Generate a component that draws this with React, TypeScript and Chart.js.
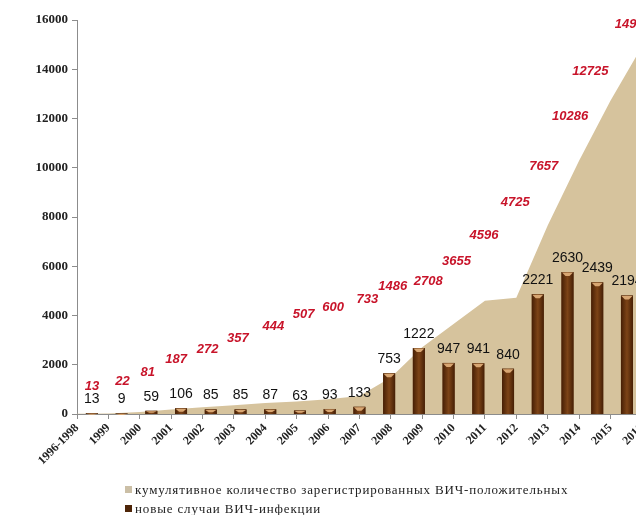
import React, { useEffect, useRef } from "react";
import { Chart, registerables } from "chart.js";

Chart.register(...registerables);

// ---- data ----
const categories = [
  "1996-1998", "1999", "2000", "2001", "2002", "2003", "2004", "2005", "2006",
  "2007", "2008", "2009", "2010", "2011", "2012", "2013", "2014", "2015", "2016",
];
const cumulativeCases = [
  13, 22, 81, 187, 272, 357, 444, 507, 600, 733, 1486, 2708, 3655, 4596, 4725,
  7657, 10286, 12725, 14915,
];
const newCases = [
  13, 9, 59, 106, 85, 85, 87, 63, 93, 133, 753, 1222, 947, 941, 840, 2221, 2630,
  2439, 2194,
];
const yAxisMax = 16000;
const yAxisStep = 2000;
const barAxisMax = 7300;
const legendLabels = [
  "кумулятивное количество зарегистрированных ВИЧ-положительных",
  "новые случаи ВИЧ-инфекции",
];

// ---- label placement nudges (px, relative to the area point) ----
const cumLabelNudge: [number, number][] = [
  [15, -27], [14, -32], [8, -40], [5, -50], [5, -58], [4, -67], [8, -77],
  [7, -87], [5, -92], [8, -97], [2, -91], [6, -66], [3, -63], [-1, -65],
  [-1, -95], [-4, -59], [-9, -44], [-20, -29], [-9, -22],
];

const AREA_COLOR = "#d6c39d";
const BAR_COLOR = "#5e2f0b";
const RED = "#c8142a";

const labelPlugin = {
  id: "valueLabels",
  afterDatasetsDraw(chart: any) {
    const ctx = chart.ctx as CanvasRenderingContext2D;
    const areaMeta = chart.getDatasetMeta(0);
    const barMeta = chart.getDatasetMeta(1);
    ctx.save();
    // bar shading + caps
    barMeta.data.forEach((bar: any) => {
      const { x, y, base, width } = bar.getProps(["x", "y", "base", "width"], true);
      const l = x - width / 2;
      const r = x + width / 2;
      const g = ctx.createLinearGradient(l, 0, r, 0);
      g.addColorStop(0, "#461f05");
      g.addColorStop(0.5, "#7d4417");
      g.addColorStop(1, "#461f05");
      ctx.fillStyle = g;
      ctx.fillRect(l, y, width, base - y);
      const capH = Math.min(4, Math.max(1.5, (base - y) * 0.6));
      ctx.fillStyle = "#d8a672";
      ctx.beginPath();
      ctx.moveTo(l + 0.5, y + 0.5);
      ctx.lineTo(r - 0.5, y + 0.5);
      ctx.lineTo(x + 2, y + capH);
      ctx.lineTo(x - 2, y + capH);
      ctx.closePath();
      ctx.fill();
    });
    // black labels on bars
    ctx.font = "14px 'Liberation Sans', Arial, sans-serif";
    ctx.fillStyle = "#111";
    ctx.textAlign = "center";
    ctx.textBaseline = "middle";
    barMeta.data.forEach((bar: any, i: number) => {
      const { x, y } = bar.getProps(["x", "y"], true);
      ctx.fillText(String(newCases[i]), x, y - 14);
    });
    // red labels for cumulative
    ctx.font = "italic bold 13px 'Liberation Sans', Arial, sans-serif";
    ctx.fillStyle = RED;
    areaMeta.data.forEach((pt: any, i: number) => {
      const { x, y } = pt.getProps(["x", "y"], true);
      const [dx, dy] = cumLabelNudge[i];
      ctx.fillText(String(cumulativeCases[i]), x + dx, y + dy);
    });
    ctx.restore();
  },
};

export default function App() {
  const canvasRef = useRef<HTMLCanvasElement | null>(null);

  useEffect(() => {
    if (!canvasRef.current) return;
    const chart = new Chart(canvasRef.current, {
      type: "bar",
      data: {
        labels: categories,
        datasets: [
          {
            type: "line",
            label: legendLabels[0],
            data: cumulativeCases,
            xAxisID: "x",
            yAxisID: "y",
            backgroundColor: AREA_COLOR,
            borderWidth: 0,
            borderColor: AREA_COLOR,
            pointRadius: 0,
            tension: 0,
            fill: "origin",
            order: 2,
          } as any,
          {
            type: "bar",
            label: legendLabels[1],
            data: newCases,
            xAxisID: "x2",
            yAxisID: "y2",
            backgroundColor: BAR_COLOR,
            grouped: false,
            maxBarThickness: 12,
            order: 1,
          },
        ],
      },
      options: {
        animation: false,
        responsive: true,
        maintainAspectRatio: false,
        layout: { padding: { top: 12, right: 7, left: 0, bottom: 0 } },
        plugins: {
          legend: { display: false },
          tooltip: { enabled: false },
        },
        scales: {
          x: {
            type: "category",
            position: "bottom",
            offset: false,
            grid: {
              display: true,
              drawOnChartArea: false,
              drawTicks: true,
              tickLength: 5,
              color: "#8c8c8c",
              offset: false,
            },
            border: { display: true, color: "#8c8c8c", width: 1 },
            ticks: {
              autoSkip: false,
              maxRotation: 45,
              minRotation: 45,
              padding: 2,
              color: "#222",
              font: { family: "'Liberation Serif', 'Times New Roman', serif", weight: "bold", size: 12 },
            },
            afterFit: (s: any) => {
              s.height = 54;
            },
          },
          x2: {
            type: "category",
            position: "bottom",
            display: true,
            offset: true,
            grid: { display: false, drawTicks: false, offset: true },
            border: { display: false },
            ticks: { display: false },
            afterFit: (s: any) => {
              s.height = 0;
            },
          },
          y: {
            min: 0,
            max: yAxisMax,
            ticks: {
              stepSize: yAxisStep,
              padding: 4,
              color: "#222",
              callback: (v: any) => String(v),
              font: { family: "'Liberation Serif', 'Times New Roman', serif", weight: "bold", size: 13 },
            },
            grid: {
              display: true,
              drawOnChartArea: false,
              tickLength: 5,
              color: "#8c8c8c",
            },
            border: { display: true, color: "#8c8c8c", width: 1 },
            afterFit: (s: any) => {
              s.width = 69;
            },
          },
          y2: {
            display: false,
            min: 0,
            max: barAxisMax,
          },
        },
      } as any,
      plugins: [labelPlugin],
    });
    return () => chart.destroy();
  }, []);

  const legendText: React.CSSProperties = {
    fontFamily: "'Liberation Serif', 'Times New Roman', serif",
    fontSize: 13,
    color: "#222",
    letterSpacing: 0.85,
    whiteSpace: "nowrap",
  };

  return (
    <div style={{ position: "fixed", left: 8, top: 8, width: 628, height: 507, overflow: "hidden" }}>
      <div style={{ position: "absolute", left: 0, top: 0, width: 646, height: 460 }}>
        <canvas ref={canvasRef} />
      </div>
      <div style={{ position: "absolute", left: 117, top: 472, lineHeight: "19px" }}>
        <div style={{ display: "flex", alignItems: "center" }}>
          <span style={{ display: "inline-block", width: 7, height: 7, background: "#cbbfa6", marginRight: 3 }} />
          <span style={legendText}>{legendLabels[0]}</span>
        </div>
        <div style={{ display: "flex", alignItems: "center" }}>
          <span style={{ display: "inline-block", width: 7, height: 7, background: "#4e2508", marginRight: 3 }} />
          <span style={legendText}>{legendLabels[1]}</span>
        </div>
      </div>
    </div>
  );
}
